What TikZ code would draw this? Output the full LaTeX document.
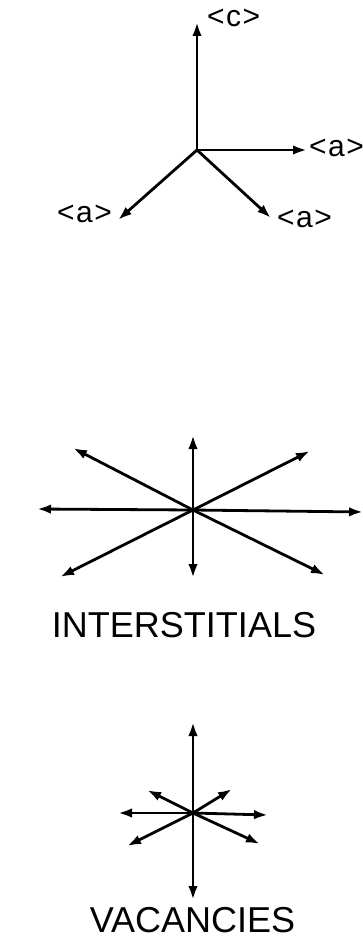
\documentclass[tikz,border=0pt]{standalone}
\usepackage{fontspec}
\setmainfont{Liberation Sans}
\usetikzlibrary{arrows.meta}
\tikzset{
  vec/.style={line width=2.8pt,-{Latex[length=14pt,width=9.5pt]}},
  lab/.style={inner sep=0pt,anchor=base west,font=\fontsize{30}{32}\selectfont\addfontfeature{LetterSpace=5}},
  captext/.style={inner sep=0pt,anchor=base,font=\fontsize{36}{40}\selectfont}
}
\begin{document}
\begin{tikzpicture}[x=1pt,y=-1pt]
\useasboundingbox (0,0) rectangle (363,939);
% axes
\coordinate (o) at (197,150);
\coordinate (c) at (197,22);
\coordinate (ar) at (307,150);
\coordinate (al) at (118,220);
\coordinate (ad) at (271,218);
\draw[vec] (o) -- (c);
\draw[vec] (o) -- (ar);
\draw[vec] (o) -- (al);
\draw[vec] (o) -- (ad);
\node[lab] (lc) at (207,27) {<c>};
\node[lab] (lar) at (309,157) {<a>};
\node[lab] (lal) at (57,222) {<a>};
\node[lab] (lad) at (277,227) {<a>};
% interstitials
\coordinate (i) at (193,510);
\coordinate (iu) at (193,435);
\coordinate (id) at (193,578);
\coordinate (il) at (37,509);
\coordinate (ir) at (363,512);
\coordinate (iul) at (73,448);
\coordinate (iur) at (310,451);
\coordinate (idl) at (60,577);
\coordinate (idr) at (325,575);
\foreach \t in {iu,id,il,ir,iul,iur,idl,idr} \draw[vec] (i) -- (\t);
\node[captext] (ti) at (184,637) {INTERSTITIALS};
% vacancies
\coordinate (v) at (193,813);
\coordinate (vu) at (193,722);
\coordinate (vd) at (193,900);
\coordinate (vl) at (118,813);
\coordinate (vr) at (268,815);
\coordinate (vul) at (147,790);
\coordinate (vur) at (232,789);
\coordinate (vdl) at (127,846);
\coordinate (vdr) at (260,844);
\foreach \t in {vu,vd,vl,vr,vul,vur,vdl,vdr} \draw[vec] (v) -- (\t);
\node[captext] (tv) at (192.5,932) {VACANCIES};
\end{tikzpicture}
\end{document}
